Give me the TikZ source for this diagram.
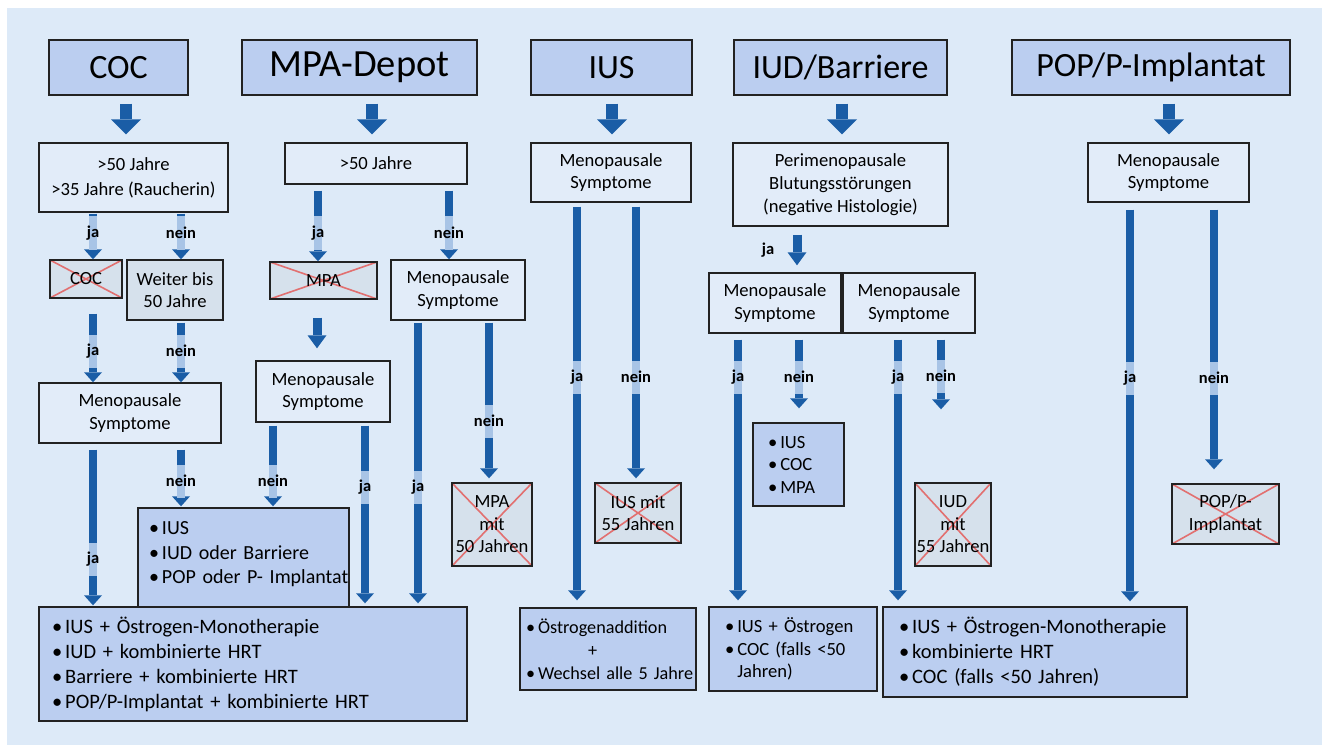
\documentclass[tikz,border=0pt]{standalone}
\usepackage{fontspec}
\setmainfont{Carlito}
\usetikzlibrary{arrows.meta}
\definecolor{bgc}{RGB}{221,234,248}
\definecolor{hdc}{RGB}{187,206,240}
\definecolor{dcc}{RGB}{226,236,249}
\definecolor{xc}{RGB}{214,225,236}
\definecolor{arrc}{RGB}{26,93,166}
\definecolor{bandc}{RGB}{168,196,230}
\definecolor{redx}{RGB}{226,112,112}
\definecolor{bdc}{RGB}{34,34,34}
\newcommand\hdrfont{\fontsize{34}{40}\selectfont}
\newcommand\bodyfont{\fontsize{18.6}{22.5}\selectfont}
\newcommand\listfont{\fontsize{20.5}{25}\selectfont}
\newcommand\lblfont{\fontsize{16.5}{18}\selectfont\bfseries}
\newcommand\bul{\textbullet\kern3pt}
\newcommand\oneline[1]{\mbox{#1}}
\newcommand\lab[4]{\node[band] (#1b) at (#2,#3) {}; \node[lbl] (#1) at (#2,#3) {#4};}
\begin{document}
\begin{tikzpicture}[x=1pt,y=-1pt,
  box/.style={draw=bdc,line width=1.4pt,inner sep=0pt,align=center},
  hdr/.style={box,fill=hdc,font=\hdrfont},
  dec/.style={box,fill=dcc,font=\bodyfont},
  gbox/.style={box,fill=xc,font=\bodyfont},
  xbox/.style={gbox,path picture={\draw[redx,line width=1.6pt] (path picture bounding box.north west) -- (path picture bounding box.south east) (path picture bounding box.north east) -- (path picture bounding box.south west);}},
  res/.style={box,fill=hdc,align=left,inner ysep=0pt},
  bigarr/.style={draw=arrc,line width=12pt,-{Triangle[width=30pt,length=15pt,line width=0pt]},shorten <=8pt,shorten >=8pt},
  tarr/.style={draw=arrc,line width=8pt,-{Triangle[width=18pt,length=10pt,line width=0pt]}},
  marr/.style={draw=arrc,line width=9pt,-{Triangle[width=19pt,length=13pt,line width=0pt]}},
  band/.style={fill=bandc,minimum width=8pt,minimum height=33pt,inner sep=0pt},
  lbl/.style={font=\lblfont,inner sep=0pt},
]
\useasboundingbox (0,0) rectangle (1322,746);
\fill[white] (0,0) rectangle (1322,746);
\fill[bgc] (7,8) rectangle (1322,745);

% headers
\node[hdr,minimum width=139pt,minimum height=55pt] (hcoc) at (118.5,67.5) {COC};
\node[hdr,minimum width=235pt,minimum height=55pt,font=\fontsize{38.5}{44}\selectfont] (hmpa) at (359.5,67.5) {MPA-Depot};
\node[hdr,minimum width=161pt,minimum height=55pt] (hius) at (611.5,67.5) {IUS};
\node[hdr,minimum width=213pt,minimum height=55pt] (hiud) at (840.5,67.5) {IUD/Barriere};
\node[hdr,minimum width=278pt,minimum height=55pt] (hpop) at (1151,67.5) {POP/P-Implantat};

% first decisions
\node[dec,minimum width=189pt,minimum height=69pt,font=\fontsize{18.6}{25}\selectfont] (cocd) at (133.5,177.5) {>50 Jahre\\>35 Jahre (Raucherin)};
\node[dec,minimum width=182pt,minimum height=41pt] (mpad) at (376,163.5) {>50 Jahre};
\node[dec,minimum width=160pt,minimum height=59pt] (iusd) at (611,172.5) {Menopausale\\Symptome};
\node[dec,minimum width=215pt,minimum height=83pt,font=\fontsize{18.6}{23}\selectfont] (iudd) at (840.5,184.5) {Perimenopausale\\Blutungsstörungen\\(negative Histologie)};
\node[dec,minimum width=161pt,minimum height=59pt] (popd) at (1168.5,172.5) {Menopausale\\Symptome};

% second row
\node[xbox,minimum width=72pt,minimum height=38pt] (cocx) at (86,279) {COC};
\node[gbox,minimum width=96pt,minimum height=60pt] (weiter) at (175,290) {Weiter bis\\50 Jahre};
\node[xbox,minimum width=107pt,minimum height=37pt] (mpax) at (323.5,280.5) {MPA};
\node[dec,minimum width=134pt,minimum height=60pt] (mpams) at (458,290) {Menopausale\\Symptome};
\node[dec,minimum width=182pt,minimum height=60pt] (cocms) at (130,413) {Menopausale\\Symptome};
\node[dec,minimum width=134pt,minimum height=61pt] (mpams2) at (323,391.5) {Menopausale\\Symptome};
\node[dec,minimum width=132pt,minimum height=60pt] (iudms1) at (775,303) {Menopausale\\Symptome};
\node[dec,minimum width=132pt,minimum height=60pt] (iudms2) at (909,303) {Menopausale\\Symptome};

% third row
\node[res,font=\fontsize{20}{24.5}\selectfont,inner xsep=11pt,text width=189pt,minimum height=99pt] (iuslist) at (243.5,557.5) {\oneline{\bul IUS}\\\oneline{\bul IUD oder Barriere}\\\oneline{\bul POP oder P- Implantat}\\[-15pt]\mbox{}};
\node[xbox,minimum width=80pt,minimum height=83pt] (mpax50) at (492,524.5) {MPA\\mit\\50 Jahren};
\node[xbox,minimum width=86pt,minimum height=60pt] (iusx55) at (638,513) {IUS mit\\55 Jahren};
\node[res,font=\bodyfont,inner xsep=15pt,text width=61pt,minimum height=83pt] (iudlist) at (798.5,464.5) {\oneline{\bul IUS}\\\oneline{\bul COC}\\\oneline{\bul MPA}};
\node[xbox,minimum width=76pt,minimum height=83pt] (iudx55) at (953,524.5) {IUD\\mit\\55 Jahren};
\node[xbox,minimum width=107pt,minimum height=60pt] (popx) at (1225.5,514) {POP/P-\\Implantat};

% results
\node[res,font=\listfont,inner xsep=13pt,text width=402pt,minimum height=114pt] (cocres) at (253,664) {\oneline{\bul IUS + Östrogen-Monotherapie}\\\oneline{\bul IUD + kombinierte HRT}\\\oneline{\bul Barriere + kombinierte HRT}\\\oneline{\bul POP/P-Implantat + kombinierte HRT}};
\node[res,inner xsep=6pt,text width=164pt,minimum height=82pt,font=\fontsize{18.2}{23}\selectfont] (iusres) at (608,649) {\oneline{\bul Östrogenaddition}\\\oneline{\hspace*{62pt}+}\\\oneline{\bul Wechsel alle 5 Jahre}};
\node[res,font=\bodyfont,inner xsep=16pt,text width=136pt,minimum height=84pt] (iudres1) at (793,649) {\oneline{\bul IUS + Östrogen}\\\oneline{\bul COC (falls <50}\\\oneline{\hphantom{\bul}Jahren)}};
\node[res,font=\listfont,inner xsep=16pt,text width=272pt,minimum height=90pt] (iudres2) at (1035,652) {\oneline{\bul IUS + Östrogen-Monotherapie}\\\oneline{\bul kombinierte HRT}\\\oneline{\bul COC (falls <50 Jahren)}};

% column coordinates
\foreach \k in {93,126,181,273,317,318,365,372,418,449,489,577,612,636,738,797,799,842,898,941,1130,1169,1214}
  \coordinate (k\k) at (\k,0);

% header arrows
\draw[bigarr] (hcoc.south -| k126) -- (cocd.north -| k126);
\draw[bigarr] (hmpa.south -| k372) -- (mpad.north -| k372);
\draw[bigarr] (hius.south -| k612) -- (iusd.north -| k612);
\draw[bigarr] (hiud.south -| k842) -- (iudd.north -| k842);
\draw[bigarr] (hpop.south -| k1169) -- (popd.north -| k1169);

% decision arrows
\draw[tarr,shorten <=1pt] (cocd.south -| k93) -- (cocx.north -| k93);
\draw[tarr,shorten <=1pt] (cocd.south -| k181) -- (weiter.north -| k181);
\draw[tarr,shorten <=15pt] (cocx.south -| k93) -- (cocms.north -| k93);
\draw[tarr,shorten <=2pt] (weiter.south -| k181) -- (cocms.north -| k181);
\draw[tarr,shorten <=6pt,shorten >=1pt] (cocms.south -| k93) -- (cocres.north -| k93);
\draw[tarr,shorten <=6pt,shorten >=1pt] (cocms.south -| k181) -- (iuslist.north -| k181);
\draw[tarr,shorten <=6pt] (mpad.south -| k318) -- (mpax.north -| k318);
\draw[tarr,shorten <=6pt] (mpad.south -| k449) -- (mpams.north -| k449);
\draw[marr,shorten <=18pt,shorten >=12pt] (mpax.south -| k317) -- (mpams2.north -| k317);
\draw[tarr,shorten <=3pt,shorten >=1pt] (mpams2.south -| k273) -- (iuslist.north -| k273);
\draw[tarr,shorten <=3pt,shorten >=3pt] (mpams2.south -| k365) -- (cocres.north -| k365);
\draw[tarr,shorten <=2pt,shorten >=3pt] (mpams.south -| k418) -- (cocres.north -| k418);
\draw[tarr,shorten <=2pt,shorten >=4pt] (mpams.south -| k489) -- (mpax50.north -| k489);
\draw[tarr,shorten <=4pt,shorten >=7pt] (iusd.south -| k577) -- (iusres.north -| k577);
\draw[tarr,shorten <=4pt,shorten >=4pt] (iusd.south -| k636) -- (iusx55.north -| k636);
\draw[marr,shorten <=8pt,shorten >=7pt] (iudd.south -| k797) -- (iudms1.north -| k797);
\draw[tarr,shorten <=6pt,shorten >=6pt] (iudms1.south -| k738) -- (iudres1.north -| k738);
\draw[tarr,shorten <=6pt,shorten >=14pt] (iudms1.south -| k799) -- (iudlist.north -| k799);
\draw[tarr,shorten <=6pt,shorten >=6pt] (iudms2.south -| k898) -- (iudres2.north -| k898);
\draw[tarr,shorten <=6pt,shorten >=73pt] (iudms2.south -| k941) -- (iudx55.north -| k941);
\draw[tarr,shorten <=7pt,shorten >=5pt] (popd.south -| k1130) -- (iudres2.north -| k1130);
\draw[tarr,shorten <=7pt,shorten >=14pt] (popd.south -| k1214) -- (popx.north -| k1214);

% labels
\lab{l1}{93}{233}{ja}
\lab{l2}{181}{233}{nein}
\lab{l3}{93}{351}{ja}
\lab{l4}{181}{351}{nein}
\lab{l5}{93}{559}{ja}
\lab{l6}{181}{481}{nein}
\lab{l7}{318}{233}{ja}
\lab{l8}{449}{233}{nein}
\lab{l9}{273}{481}{nein}
\lab{l10}{365}{487}{ja}
\lab{l11}{418}{487}{ja}
\lab{l12}{489}{421}{nein}
\lab{l13}{577}{377}{ja}
\lab{l14}{636}{377}{nein}
\node[lbl] (l15) at (768,250) {ja};
\lab{l16}{738}{377}{ja}
\lab{l17}{799}{377}{nein}
\lab{l18}{898}{377}{ja}
\lab{l19}{941}{376}{nein}
\lab{l20}{1130}{378}{ja}
\lab{l21}{1214}{378}{nein}
\end{tikzpicture}
\end{document}
